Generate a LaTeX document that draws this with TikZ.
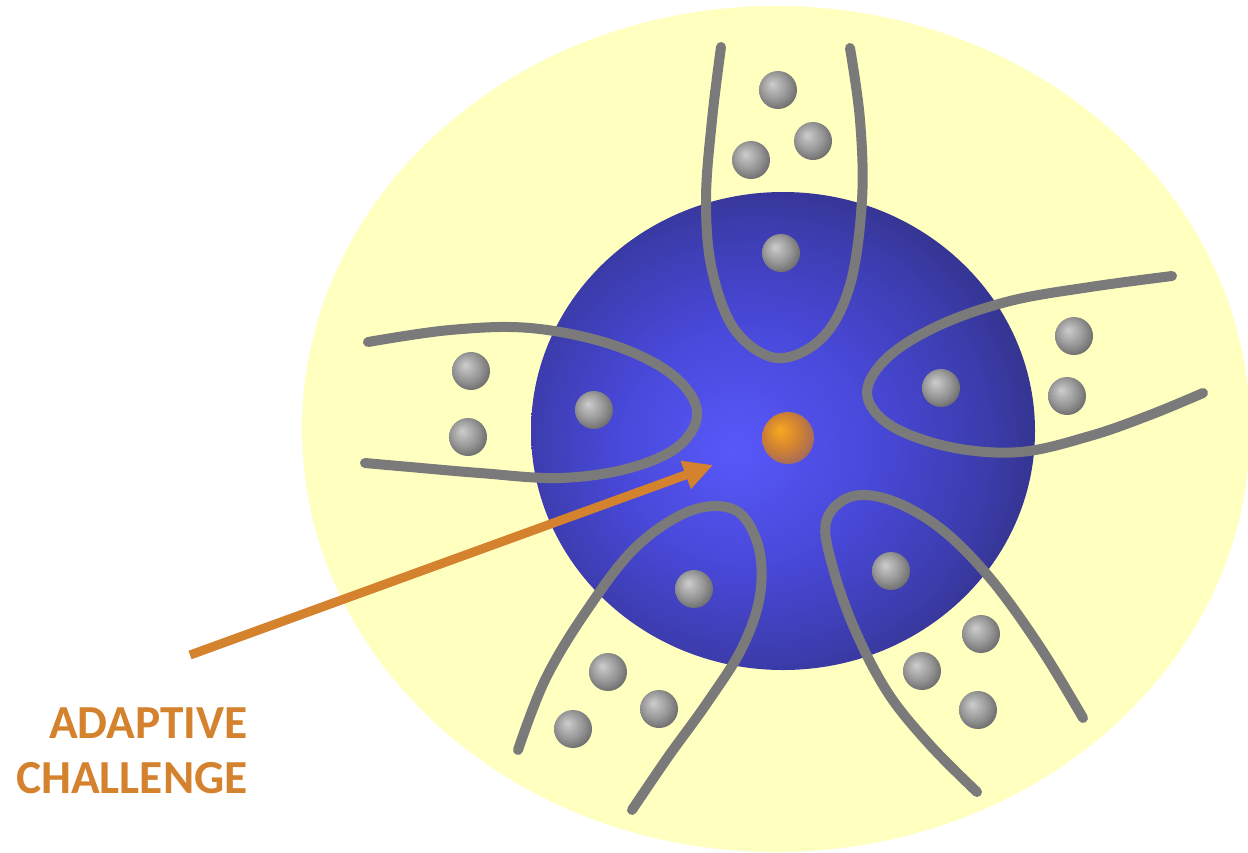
\documentclass[tikz,border=0pt]{standalone}
\usepackage{fontspec}
\newfontfamily\labelfont{Carlito}
\usetikzlibrary{arrows.meta}
\definecolor{yellowbg}{RGB}{255,255,192}
\definecolor{bluein}{RGB}{88,88,250}
\definecolor{bluemid}{RGB}{72,72,216}
\definecolor{bluemid2}{RGB}{60,60,172}
\definecolor{blueout}{RGB}{50,50,136}
\definecolor{grayA}{RGB}{205,205,205}
\definecolor{grayB}{RGB}{150,150,150}
\definecolor{grayC}{RGB}{85,85,85}
\definecolor{orA}{RGB}{248,168,30}
\definecolor{orB}{RGB}{205,128,52}
\definecolor{orC}{RGB}{140,92,120}
\definecolor{tentacle}{RGB}{122,122,122}
\definecolor{arroworange}{RGB}{212,130,46}
\pgfdeclareradialshading{blueshade}{\pgfpoint{-5bp}{-2bp}}{color(0bp)=(bluein); color(13bp)=(bluemid); color(23bp)=(bluemid2); color(29bp)=(blueout); color(50bp)=(blueout)}
\pgfdeclareradialshading{grayshade}{\pgfpoint{-8bp}{8bp}}{color(0bp)=(grayA); color(18bp)=(grayB); color(36bp)=(grayC); color(50bp)=(grayC)}
\pgfdeclareradialshading{orangeshade}{\pgfpoint{-8bp}{8bp}}{color(0bp)=(orA); color(18bp)=(orB); color(36bp)=(orC); color(50bp)=(orC)}
\tikzset{
  gball/.style={circle, minimum size=19pt, inner sep=0pt, shading=grayshade},
  oball/.style={circle, minimum size=26pt, inner sep=0pt, shading=orangeshade},
  tent/.style={draw=tentacle, line width=5pt, line cap=round, line join=round},
  challenge/.style={draw=arroworange, line width=4.5pt, -{Triangle[length=14.5pt,width=14pt]}},
  lbl/.style={text=arroworange, font=\labelfont\bfseries\fontsize{23.7}{28}\selectfont, inner sep=0pt, anchor=base east}
}
\begin{document}
\begin{tikzpicture}[x=0.5pt,y=-0.5pt]
\useasboundingbox (0,0) rectangle (1248,852);
\begin{scope}
\clip (0,0) rectangle (1248,852);
\fill[yellowbg] (776,429) ellipse [x radius=474, y radius=423];
\end{scope}
\shade[shading=blueshade] (783,431) ellipse [x radius=252, y radius=239];
\node[oball] (core) at (788,438) {};
% gray balls
\node[gball] (t1) at (778,90) {};
\node[gball] (t2) at (813,141) {};
\node[gball] (t3) at (751,160) {};
\node[gball] (t4) at (781,253) {};
\node[gball] (l1) at (471,371) {};
\node[gball] (l2) at (468,437) {};
\node[gball] (l3) at (594,410) {};
\node[gball] (r1) at (1074,336) {};
\node[gball] (r2) at (1067,396) {};
\node[gball] (r3) at (941,388) {};
\node[gball] (bl1) at (694,589) {};
\node[gball] (bl2) at (608,672) {};
\node[gball] (bl3) at (659,709) {};
\node[gball] (bl4) at (573,729) {};
\node[gball] (br1) at (891,571) {};
\node[gball] (br2) at (981,634) {};
\node[gball] (br3) at (922,671) {};
\node[gball] (br4) at (978,710) {};
% tentacles
\draw[tent] plot[smooth, tension=0.6] coordinates {(721,47) (712,120) (706,200) (712,270) (735,330) (777,358) (822,338) (850,285) (862,200) (860,120) (850,48)};
\draw[tent] plot[smooth, tension=0.6] coordinates {(368,342) (450,330) (530,328) (610,344) (670,373) (697,410) (680,445) (630,468) (560,478) (480,473) (410,467) (365,463)};
\draw[tent] plot[smooth, tension=0.6] coordinates {(1172,276) (1090,287) (1010,301) (940,325) (888,357) (867,393) (890,425) (950,447) (1020,452) (1090,436) (1150,415) (1203,393)};
\draw[tent] plot[smooth, tension=0.6] coordinates {(518,750) (545,680) (585,613) (635,548) (690,511) (735,510) (758,545) (760,595) (742,648) (707,703) (668,757) (632,810)};
\draw[tent] plot[smooth, tension=0.6] coordinates {(977,792) (930,745) (888,693) (855,630) (833,568) (826,522) (850,497) (890,500) (940,528) (990,578) (1040,647) (1083,718)};
% label and arrow
\node[lbl] (lab1) at (248,738) {ADAPTIVE};
\node[lbl] (lab2) at (248,793) {CHALLENGE};
\coordinate (astart) at (190,655);
\coordinate (atip) at (713,465);
\draw[challenge] (astart) -- (atip);
\end{tikzpicture}
\end{document}
